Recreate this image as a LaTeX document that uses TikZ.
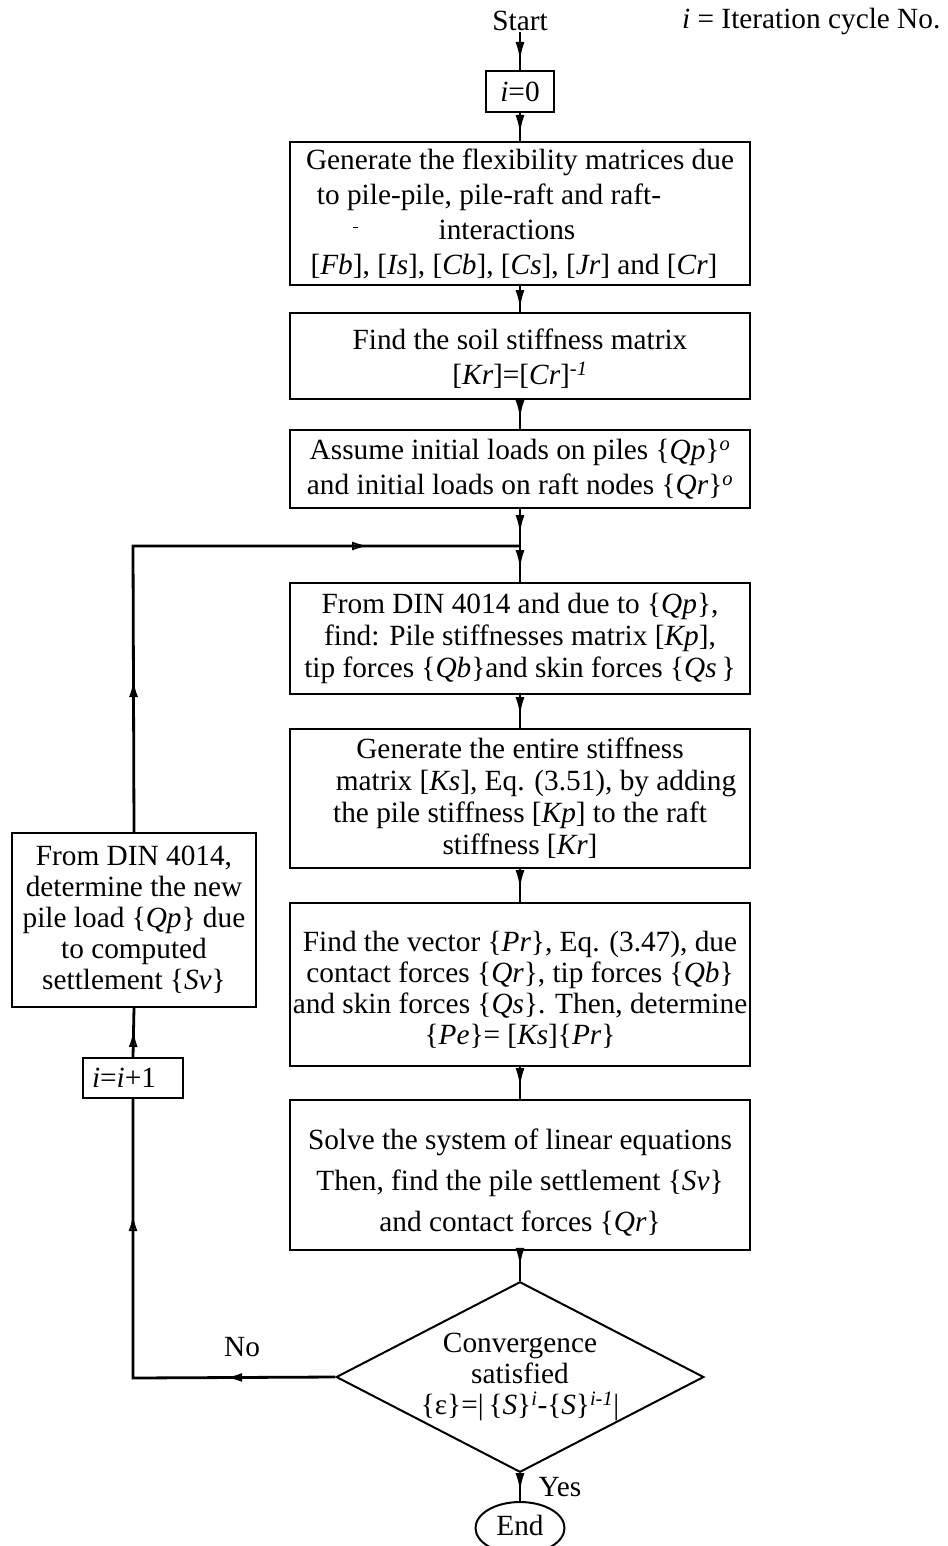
\documentclass[tikz,border=0pt]{standalone}
\usepackage{fontspec}
\setmainfont{Liberation Serif}
\usetikzlibrary{shapes.geometric,arrows.meta,decorations.markings}
\newcommand\itx[1]{{\itshape #1}}
\tikzset{
  txt/.style={font=\fontsize{29.3}{35}\selectfont, inner sep=1pt},
  box/.style={draw, line width=2pt, minimum width=460pt, inner sep=0pt, align=center, font=\fontsize{29.3}{35}\selectfont},
  conn/.style={line width=2.8pt},
  tipat/.style={postaction={decorate,decoration={markings,mark=at position #1 with {\arrow{Latex[length=19pt,width=9pt]}}}}},
  otipat/.style={postaction={decorate,decoration={markings,mark=at position #1 with {\arrow[line width=1.8pt]{Latex[open,length=16pt,width=9pt]}}}}},
}
\begin{document}
\begin{tikzpicture}[x=1pt,y=-1pt]
\useasboundingbox (0,0) rectangle (947,1546);
\fill[white] (0,0) rectangle (947,1546);
\clip (0,0) rectangle (947,1546);

\node[txt] (start) at (520,21) {Start};
\node[txt, anchor=west] (legend) at (681,22) {\itx{i} = Iteration cycle No.};
\node[box, minimum width=68pt, minimum height=41pt] (i0) at (520,91.5) {\itx{i}=0};

\node[box, minimum height=143pt] (b1) at (520,213.5) {Generate the flexibility matrices due\\
to pile-pile, pile-raft and raft-\rule{62pt}{0pt}\\
interactions\rule{26pt}{0pt}\\
{[}\itx{Fb}], [\itx{Is}], [\itx{Cb}], [\itx{Cs}], [\itx{Jr}] and [\itx{Cr}]\rule{12pt}{0pt}};
\draw[line width=0.8pt] (353,227) -- (358,227);

\node[box, minimum height=86pt] (b2) at (520,356) {Find the soil stiffness matrix\rule{0pt}{26pt}\\
{[}\itx{Kr}]=[\itx{Cr}]\textsuperscript{\itx{-1}}};

\node[box, minimum height=78pt] (b3) at (520,469) {Assume initial loads on piles \{\itx{Qp}\}\textsuperscript{\itx{o}}\\
and initial loads on raft nodes \{\itx{Qr}\}\textsuperscript{\itx{o}}};

\coordinate (J) at (520,546);
\coordinate (L1) at (133,546);
\coordinate (L2) at (133,1378);

\node[box, minimum height=111pt, font=\fontsize{29.3}{32}\selectfont] (b4) at (520,638.5) {From DIN 4014 and due to \{\itx{Qp}\},\\
find: Pile stiffnesses matrix [\itx{Kp}],\\
tip forces \{\itx{Qb}\}and skin forces \{\itx{Qs}\,\}};

\node[box, minimum height=139pt, font=\fontsize{29.3}{32}\selectfont] (b5) at (520,798.5) {Generate the entire stiffness\\
\hspace*{32pt}matrix [\itx{Ks}], Eq. (3.51), by adding\\
the pile stiffness [\itx{Kp}] to the raft\\
stiffness [\itx{Kr}]};

\node[box, minimum height=163pt, font=\fontsize{29.3}{31}\selectfont] (b6) at (520,984.5) {Find the vector \{\itx{Pr}\}, Eq. (3.47), due\rule{0pt}{30pt}\\
contact forces \{\itx{Qr}\}, tip forces \{\itx{Qb}\}\\
and skin forces \{\itx{Qs}\}. Then, determine\\
\{\itx{Pe}\}= [\itx{Ks}]\{\itx{Pr}\}};

\node[box, minimum height=150pt, font=\fontsize{29.3}{41}\selectfont] (b7) at (520,1175) {Solve the system of linear equations\rule{0pt}{36pt}\\
Then, find the pile settlement \{\itx{Sv}\}\\
and contact forces \{\itx{Qr}\}};

\node[draw, diamond, line width=2pt, minimum width=348pt, minimum height=180pt, aspect=1.93, inner sep=0pt, align=center, font=\fontsize{29.3}{31}\selectfont] (dia) at (520,1377) {Convergence\\
satisfied\\
\{ε\}=|\,\{\itx{S}\}\textsuperscript{\itx{i}}-\{\itx{S}\}\textsuperscript{\itx{i-1}}|};

\node[draw, ellipse, line width=2pt, minimum width=89pt, minimum height=52pt, inner sep=0pt, text height=14pt, text depth=0pt, font=\fontsize{29.3}{35}\selectfont] (end) at (520,1528) {End};

\node[box, minimum width=244pt, minimum height=174pt, font=\fontsize{29.3}{31}\selectfont] (lbox) at (134,920) {From DIN 4014,\\
determine the new\\
pile load \{\itx{Qp}\} due\\
to computed\\
settlement \{\itx{Sv}\}};

\node[box, minimum width=100pt, minimum height=40pt] (inc) at (133,1078) {\itx{i}=\itx{i}+1\rule{18pt}{0pt}};

\node[txt] (no) at (242,1347) {No};
\node[txt] (yes) at (560,1487) {Yes};

% main flow
\draw[conn, tipat=-9pt] (start.south) -- (i0.north);
\draw[conn, tipat=-7pt] (i0.south) -- (b1.north);
\draw[conn, tipat=-3pt] (b1.south) -- (b2.north);
\draw[conn, tipat=-10pt] (b2.south) -- (b3.north);
\draw[conn, tipat=25pt, tipat=-13pt] (b3.south) -- (J) -- (b4.north);
\draw[conn, tipat=-12pt] (b4.south) -- (b5.north);
\draw[conn, tipat=-13pt] (b5.south) -- (b6.north);
\draw[conn, tipat=-12pt] (b6.south) -- (b7.north);
\draw[conn, tipat=-14pt] (b7.south) -- (dia.north);
\draw[conn, tipat=-9pt] (dia.south) -- (end.north);

% loop
\draw[conn, otipat=109pt, otipat=365pt] (dia.west) -- (L2) -- (inc.south);
\draw[conn, otipat=26pt] (inc.north) -- (lbox.south);
\draw[conn, otipat=151pt, otipat=521pt] (lbox.north) -- (L1) -- (J);
\end{tikzpicture}
\end{document}
